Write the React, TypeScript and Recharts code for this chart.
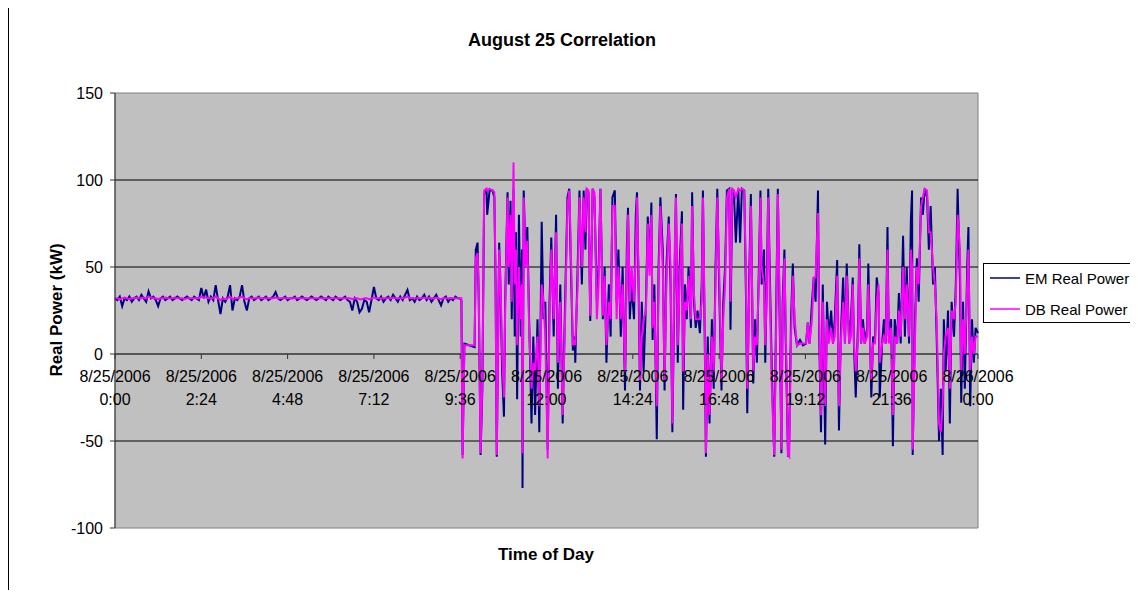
import { LineChart, Line, XAxis, YAxis, CartesianGrid, ReferenceLine, ReferenceArea, Legend } from "recharts";

// sample times in minutes after 8/25/2006 0:00
const minutes = [
  0, 4, 8, 12, 16, 20, 24, 28,
  32, 36, 40, 44, 48, 52, 56, 60,
  64, 68, 72, 76, 80, 84, 88, 92,
  96, 100, 104, 108, 112, 116, 120, 124,
  128, 132, 136, 140, 144, 148, 152, 156,
  160, 164, 168, 172, 176, 180, 184, 188,
  192, 196, 200, 204, 208, 212, 216, 220,
  224, 228, 232, 236, 240, 244, 248, 252,
  256, 260, 264, 268, 272, 276, 280, 284,
  288, 292, 296, 300, 304, 308, 312, 316,
  320, 324, 328, 332, 336, 340, 344, 348,
  352, 356, 360, 364, 368, 372, 376, 380,
  384, 388, 392, 396, 400, 404, 408, 412,
  416, 420, 424, 428, 432, 436, 440, 444,
  448, 452, 456, 460, 464, 468, 472, 476,
  480, 484, 488, 492, 496, 500, 504, 508,
  512, 516, 520, 524, 528, 532, 536, 540,
  544, 548, 552, 556, 560, 564, 568, 572,
  575, 578, 580, 583, 591, 600, 602, 605, 607, 610, 613, 616, 620, 621, 625, 630, 633, 635, 637,
  641, 643, 646, 649, 651, 655, 657, 660, 662, 665, 667, 669, 671, 674, 677, 679, 680, 682, 685,
  688, 691, 695, 698, 701, 705, 708, 712, 715, 718, 722, 725, 728, 732, 736, 739, 743, 747, 751,
  755, 758, 760, 764, 767, 768, 772, 775, 779, 782, 785, 787, 790, 793, 797, 800, 804, 807, 810,
  814, 817, 820, 824, 827, 830, 834, 837, 840, 844, 847, 851, 854, 856, 859, 862, 866, 869, 871,
  874, 876, 879, 882, 886, 889, 892, 895, 897, 900, 904, 907, 910, 914, 917, 920, 924, 927, 930,
  934, 936, 939, 942, 946, 948, 951, 954, 957, 961, 963, 966, 969, 972, 976, 979, 981, 984, 986,
  989, 992, 996, 999, 1002, 1005, 1008, 1012, 1015, 1018, 1021, 1025, 1027, 1030, 1033, 1036, 1040, 1043, 1046,
  1050, 1053, 1055, 1058, 1061, 1065, 1068, 1071, 1075, 1077, 1079, 1083, 1085, 1088, 1090, 1093, 1096, 1100, 1103,
  1106, 1109, 1112, 1114, 1117, 1119, 1123, 1125, 1128, 1131, 1134, 1138, 1143, 1148, 1153, 1156, 1159, 1163, 1166,
  1169, 1173, 1175, 1178, 1181, 1185, 1188, 1191, 1195, 1198, 1201, 1205, 1208, 1211, 1215, 1218, 1221, 1225, 1228,
  1231, 1233, 1236, 1240, 1242, 1245, 1248, 1251, 1255, 1257, 1260, 1262, 1265, 1268, 1271, 1274, 1276, 1280, 1283,
  1286, 1289, 1291, 1295, 1298, 1301, 1305, 1308, 1311, 1315, 1318, 1321, 1325, 1328, 1330, 1331, 1335, 1338, 1341,
  1345, 1348, 1351, 1355, 1358, 1361, 1365, 1368, 1371, 1375, 1378, 1381, 1383, 1386, 1390, 1393, 1396, 1400, 1403,
  1406, 1410, 1412, 1415, 1418, 1422, 1424, 1427, 1430, 1433, 1436, 1440,
];

// kW, energy meter
const emRealPower = [
  32, 31, 33, 27.5, 32, 31, 33, 30,
  32, 33, 31, 34, 32, 30, 36, 32,
  33, 31, 27.5, 32, 33, 31, 32, 33,
  31, 32, 33, 32, 31, 32, 33, 32,
  31, 33, 32, 31, 38, 32, 37, 30,
  33, 31, 39.6, 31, 23, 32, 30, 33,
  39.6, 25, 32, 31, 33, 39.6, 30, 25,
  32, 33, 31, 32, 33, 31, 32, 33,
  31, 32, 33, 35.6, 32, 31, 32, 33,
  31, 32, 32, 33, 31, 32, 33, 32,
  31, 32, 33, 32, 31, 32, 33, 32,
  31, 33, 32, 31, 33, 32, 31, 32,
  33, 31, 30, 25, 32, 30, 24, 26,
  31, 30, 24, 31, 38.5, 32, 31, 33,
  30, 32, 33, 31, 34, 32, 30, 33,
  31, 34, 36.8, 31, 32, 30, 33, 31,
  32, 34, 31, 33, 30, 32, 34, 31,
  28, 32, 33, 30, 32, 31, 33, 32,
  32, 31, -58, 6, 5, 4, 60, 64, 30, -58, -20, 92, 95, 80, 94, 94, 90, 40, -59,
  64, 40, -10, -36, 30, 93, 40, 88, 20, 95, 10, 70, -26, 80, 10, 60, -77, 94, 55,
  73, 20, -40, 10, -35, 20, -45, 76, 20, 30, -55, 30, 67, 10, 80, -20, 40, -40, 30,
  90, 95, 60, 2, 10, -5, 50, 94, 40, 94, 60, 95, 93, 19, 95, 90, 30, 50, 95,
  20, 50, -5, 40, 10, 90, 94, 30, 60, 10, 50, -21, 60, 84, 20, 40, 20, 80, 93,
  30, -21, 30, -10, 30, 79, 50, 87, 8, 40, -49, 50, 90, 60, -21, 50, 79, 40, -45,
  50, 92, -5, 50, 82, -32, 40, 20, 50, 15, 93, 30, 15, 25, 12, 40, 94, 10, -59,
  10, -40, 20, -20, 50, 95, 40, -21, 30, 50, 94, 95, 14, 95, 90, 64, 95, 64, 95,
  94, 30, -34, 40, 92, -17, 20, -5, 60, 94, 40, 60, -5, 50, 95, 40, -10, -59, 20,
  95, 20, -57, 30, 60, 10, -59, -50, 20, 52, 15, 5, 8, 5, 6, 18, 6, 30, 44,
  30, 94, 10, -45, 40, -52, 30, 10, 25, 6, 20, 54, -44, 10, 44, 6, 52, 6, 20,
  44, 5, -25, 20, 63, 6, 20, 6, 15, 52, 6, -25, 10, 6, 44, 35, -25, 6, 20,
  6, 73, 10, 20, -53, 20, 6, 35, 6, 68, 10, 50, 6, 77, 94, -58, 20, 55, 30,
  90, 80, 95, 90, 60, 85, 40, 50, 10, -50, -20, -58, 20, -10, 25, -40, 30, 10, 40,
  95, 40, -28, 30, -20, 50, 73, -30, 20, -5, 15, 12,
];

// kW, data bus
const dbRealPower = [
  32, 32, 31.5, 32, 32.5, 32, 31.5, 32,
  32, 32.5, 32, 32, 32.5, 32, 33, 32.5,
  32, 32, 31.5, 32, 32, 32.5, 32, 32,
  32, 32.5, 32, 32, 32, 31.5, 32, 32,
  32, 32, 32, 32, 33, 32.5, 32.5, 32,
  32, 32, 33, 32, 31, 32, 31.5, 32,
  33, 31.5, 32, 32, 32.5, 33, 32, 31.5,
  32, 32, 32, 32, 32.5, 32, 32, 32,
  32, 32, 32, 32.5, 32, 32, 32, 32,
  32, 32, 32, 32, 32, 32, 32, 32,
  32, 32, 32, 32, 32, 32, 32, 32,
  32, 32, 32, 32, 32, 32, 32, 32,
  32, 32, 32, 31.5, 32, 32, 31.5, 31.5,
  32, 32, 31.5, 32, 32.5, 32, 32, 32,
  32, 32, 32, 32, 32.5, 32, 32, 32,
  32, 32.5, 33, 32, 32, 32, 32, 32,
  32, 32.5, 32, 32, 32, 32, 32.5, 32,
  31.5, 32, 32, 32, 32, 32, 32, 32,
  32, 32, -60, 5, 5, 5, 55, 58, 35, -57, -15, 94, 95, 94, 95, 94, 93, 45, -58,
  60, 45, 0, -25, 25, 90, 50, 80, 30, 110, 40, 60, 5, 50, 20, 40, -57, 90, 50,
  65, 15, -20, -5, -10, 10, -30, 40, 30, 10, -60, 20, 60, 20, 70, -5, 30, -35, 20,
  85, 94, 70, 5, 8, 5, 40, 90, 50, 90, 70, 95, 94, 22, 95, 93, 20, 40, 95,
  22, 45, 5, 30, 20, 85, 85, 20, 50, 20, 40, -10, 50, 80, 30, 50, 30, 60, 90,
  40, -15, 10, 20, 25, 75, 45, 80, 15, 30, -30, 40, 85, 50, -15, 40, 75, 50, -40,
  60, 90, 5, 40, 75, -10, 30, 25, 45, 20, 85, 35, 20, 20, 20, 30, 90, 20, -57,
  0, -35, 10, -10, 40, 90, 50, -15, 20, 40, 90, 95, 30, 95, 94, 90, 95, 94, 95,
  94, 40, -20, 30, 85, -10, 10, 5, 50, 90, 50, 40, 5, 40, 90, 30, -20, -58, 10,
  92, 30, -55, 20, 55, 20, -58, -59, 10, 45, 20, 5, 6, 6, 6, 18, 6, 20, 44,
  44, 81, 20, -35, 30, -30, 20, 6, 15, 6, 10, 45, -30, 6, 30, 6, 45, 6, 10,
  40, 6, -10, 10, 55, 6, 15, 6, 10, 40, 5, -15, 6, 6, 30, 40, -5, 6, 10,
  6, 60, 6, 15, -35, 10, 6, 25, 10, 50, 20, 40, 10, 60, 50, -55, 10, 50, 40,
  85, 90, 95, 94, 70, 70, 50, 40, 20, -40, -45, -30, 0, 10, 15, -20, 25, 20, 30,
  80, 60, -10, 20, 0, 40, 60, -10, 10, 0, 10, 10,
];

const seriesKeys = ["em", "db"];
const seriesNames = ["EM Real Power", "DB Real Power"];
const seriesColors = ["#000080", "#FF00FF"];

const yTicks = [-100, -50, 0, 50, 100, 150];
const gridValues = [100, 50, -50];
const tickMinutes = [0, 144, 288, 432, 576, 720, 864, 1008, 1152, 1296, 1440];
const tickDates = [
  "8/25/2006", "8/25/2006", "8/25/2006", "8/25/2006", "8/25/2006", "8/25/2006",
  "8/25/2006", "8/25/2006", "8/25/2006", "8/25/2006", "8/26/2006",
];
const tickTimes = ["0:00", "2:24", "4:48", "7:12", "9:36", "12:00", "14:24", "16:48", "19:12", "21:36", "0:00"];

const data = minutes.map((t, i) => ({ t, em: emRealPower[i], db: dbRealPower[i] }));

const FONT = "'Liberation Sans', Arial, sans-serif";
const CHART_W = 1129;
const CHART_H = 582;
const PLOT_LEFT = 106;
const PLOT_TOP = 85;
const PLOT_W = 863;
const PLOT_H = 435;
const X_AXIS_H = 30;
const Y_MIN = -100;
const Y_MAX = 150;

// the category axis crosses the value axis at 0
const zeroY = PLOT_TOP + (PLOT_H * Y_MAX) / (Y_MAX - Y_MIN);

function TimeTick(props: any) {
  const { x, payload } = props;
  const i = tickMinutes.indexOf(payload.value);
  return (
    <g>
      <line x1={x} x2={x} y1={zeroY} y2={zeroY + 5} stroke="#333" />
      <text textAnchor="middle" fontSize={16} fill="#000" fontFamily={FONT}>
        <tspan x={x} y={zeroY + 28}>{tickDates[i]}</tspan>
        <tspan x={x} y={zeroY + 51}>{tickTimes[i]}</tspan>
      </text>
    </g>
  );
}

function LegendBox(props: any) {
  const payload = [...(props.payload || [])].sort(
    (a: any, b: any) => seriesKeys.indexOf(a.dataKey) - seriesKeys.indexOf(b.dataKey)
  );
  return (
    <div
      style={{
        width: 165,
        height: 60,
        border: "1px solid #000",
        background: "#fff",
        boxSizing: "border-box",
        fontFamily: FONT,
        fontSize: 15,
        paddingTop: 1,
      }}
    >
      {payload.map((entry: any) => (
        <div key={entry.value} style={{ display: "flex", alignItems: "center", height: 26, marginBottom: 5 }}>
          <svg width={41} height={10} style={{ flex: "none" }}>
            <line x1={6} x2={36} y1={5} y2={5} stroke={entry.color} strokeWidth={1.5} />
          </svg>
          <span style={{ whiteSpace: "nowrap", color: "#000" }}>{entry.value}</span>
        </div>
      ))}
    </div>
  );
}

export default function App() {
  return (
    <div
      style={{
        position: "relative",
        marginTop: -1,
        width: 1130,
        height: 583,
        borderTop: "1px solid #000",
        borderLeft: "1px solid #000",
        boxSizing: "border-box",
        overflow: "hidden",
        background: "#fff",
        fontFamily: FONT,
      }}
    >
      <LineChart
        width={CHART_W}
        height={CHART_H}
        data={data}
        margin={{
          top: PLOT_TOP,
          right: CHART_W - PLOT_LEFT - PLOT_W,
          bottom: CHART_H - PLOT_TOP - PLOT_H - X_AXIS_H,
          left: 0,
        }}
      >
        <CartesianGrid fill="#C0C0C0" fillOpacity={1} horizontal={false} vertical={false} />
        <ReferenceArea x1={0} x2={1440} y1={Y_MIN} y2={Y_MAX} fill="none" stroke="#808080" strokeWidth={1} />
        {gridValues.map((v) => (
          <ReferenceLine key={v} y={v} stroke="#000" strokeWidth={1} />
        ))}
        <ReferenceLine y={0} stroke="#333" strokeWidth={1.5} />
        <XAxis
          dataKey="t"
          type="number"
          domain={[0, 1440]}
          ticks={tickMinutes}
          interval={0}
          tick={<TimeTick />}
          tickLine={false}
          axisLine={false}
          height={X_AXIS_H}
        />
        <YAxis
          type="number"
          domain={[Y_MIN, Y_MAX]}
          ticks={yTicks}
          interval={0}
          width={PLOT_LEFT}
          tickSize={5}
          tickMargin={7}
          axisLine={{ stroke: "#333" }}
          tickLine={{ stroke: "#333" }}
          tick={{ fontSize: 16, fill: "#000", fontFamily: FONT }}
        />
        {seriesKeys.map((key, i) => (
          <Line
            key={key}
            type="linear"
            dataKey={key}
            name={seriesNames[i]}
            stroke={seriesColors[i]}
            strokeWidth={2}
            dot={false}
            isAnimationActive={false}
          />
        ))}
        <Legend
          layout="vertical"
          align="center"
          verticalAlign="middle"
          content={<LegendBox />}
          wrapperStyle={{ left: 974, top: 255, width: 165 }}
        />
      </LineChart>
      <div
        style={{
          position: "absolute",
          left: 253,
          top: 22,
          width: 600,
          lineHeight: "20px",
          textAlign: "center",
          fontWeight: "bold",
          fontSize: 18,
        }}
      >
        August 25 Correlation
      </div>
      <div
        style={{
          position: "absolute",
          left: -52,
          top: 292,
          width: 200,
          height: 20,
          lineHeight: "20px",
          textAlign: "center",
          fontWeight: "bold",
          fontSize: 17,
          transform: "rotate(-90deg)",
        }}
      >
        Real Power (kW)
      </div>
      <div
        style={{
          position: "absolute",
          left: 387,
          top: 537,
          width: 300,
          lineHeight: "20px",
          textAlign: "center",
          fontWeight: "bold",
          fontSize: 17,
        }}
      >
        Time of Day
      </div>
    </div>
  );
}
